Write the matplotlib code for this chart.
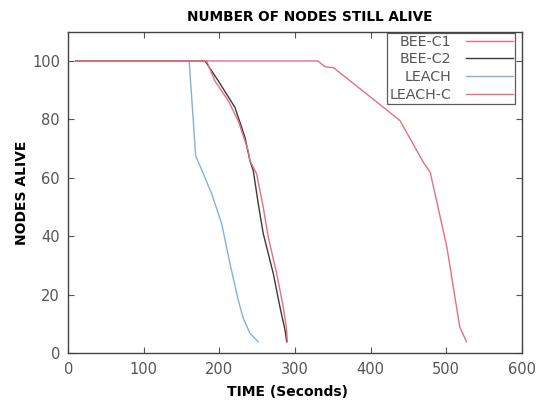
import matplotlib
matplotlib.use("Agg")
import matplotlib.pyplot as plt

# Data
bee_c1_t = [10, 330, 340, 351, 412, 439, 470, 479, 501, 518, 527]
bee_c1_v = [100, 100, 98, 97.7, 85.2, 79.6, 65.3, 61.9, 36.4, 9.1, 4.0]

bee_c2_t = [10, 181, 198.5, 220.6, 225, 233.8, 240.4, 244.8, 251.4, 258, 271.3, 280.1, 286.8, 289]
bee_c2_v = [100, 100, 93.2, 84.1, 80.7, 73.9, 65.9, 62.5, 51.2, 41, 27.3, 15.9, 8, 4.0]

leach_t = [10, 160, 168.6, 189.8, 203, 214, 225, 231.6, 240.4, 251.4]
leach_v = [100, 100, 67.6, 54.6, 44.4, 30.7, 18.2, 12, 6.9, 4.0]

leach_c_t = [10, 183, 194, 211.7, 225, 238.2, 240.4, 249.3, 258, 264.6, 275.8, 284.5, 289, 289.8]
leach_c_v = [100, 100, 93.2, 86.4, 79.5, 69.3, 65.9, 61.4, 50, 39.8, 27.3, 15.9, 8, 4.0]

xticks = [0, 100, 200, 300, 400, 500, 600]
yticks = [0, 20, 40, 60, 80, 100]

RED = "#e6707a"
BLACK = "#3a3a3a"
BLUE = "#7fb2e0"
GRAY = "#555555"

fig = plt.figure(figsize=(5.41, 4.05), dpi=100)
ax = fig.add_axes([0.1262, 0.1272, 0.9643 - 0.1262, 0.9217 - 0.1272])

l2, = ax.plot(bee_c2_t, bee_c2_v, color=BLACK, lw=1.0, zorder=3, label="BEE-C2")
l3, = ax.plot(leach_t, leach_v, color=BLUE, lw=1.0, zorder=2, label="LEACH")
l4, = ax.plot(leach_c_t, leach_c_v, color=RED, lw=1.0, zorder=4, label="LEACH-C")
l1, = ax.plot(bee_c1_t, bee_c1_v, color=RED, lw=1.0, zorder=5, label="BEE-C1")

ax.set_xlim(0, 600)
ax.set_ylim(0, 110)
ax.set_xticks(xticks)
ax.set_yticks(yticks)
ax.tick_params(direction="in", top=True, right=True, length=4, width=0.8,
               colors=GRAY, labelsize=10.5, pad=6)
for s in ax.spines.values():
    s.set_color("#444444")
    s.set_linewidth(1.0)

fig.text(0.573, 0.958, "NUMBER OF NODES STILL ALIVE", fontsize=9.8, fontweight="bold",
         ha="center", va="center")
fig.text(0.532, 0.031, "TIME (Seconds)", fontsize=10, fontweight="bold",
         ha="center", va="center")
fig.text(0.041, 0.523, "NODES ALIVE", fontsize=10, fontweight="bold",
         ha="center", va="center", rotation=90)

leg = ax.legend(handles=[l1, l2, l3, l4], loc="upper right", bbox_to_anchor=(0.985, 0.997),
                markerfirst=False, fontsize=10.3, frameon=True, fancybox=False,
                handlelength=3.3, handletextpad=1.0, borderpad=0.15, labelspacing=0.25,
                borderaxespad=0.0)
leg.get_frame().set_edgecolor("#333333")
leg.get_frame().set_linewidth(0.9)
for t in leg.get_texts():
    t.set_color(GRAY)
    t.set_horizontalalignment("right")

fig.savefig("out.png", dpi=100)
